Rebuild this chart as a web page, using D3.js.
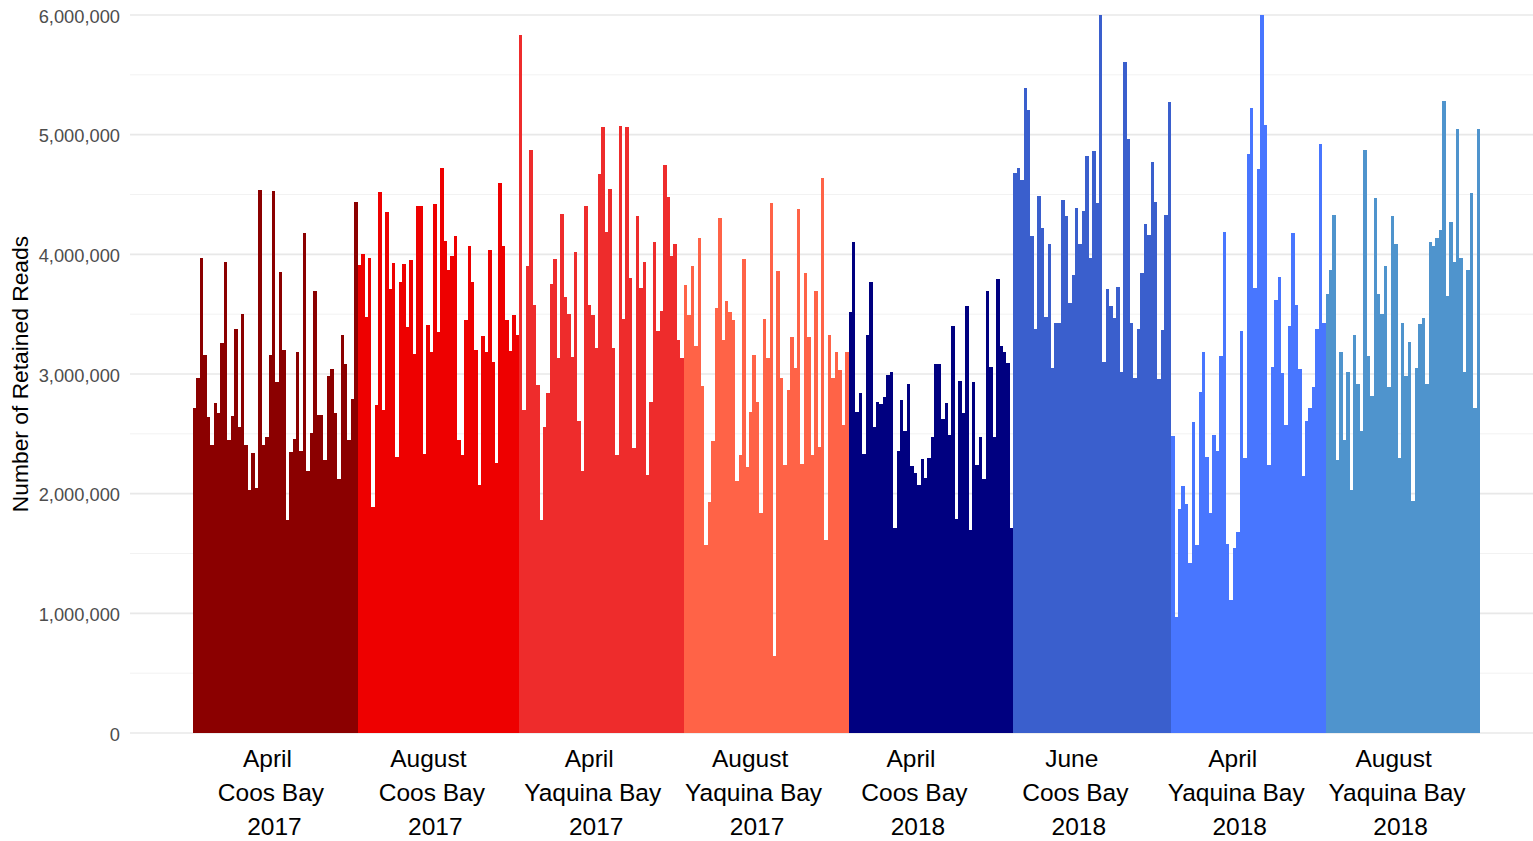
<!DOCTYPE html>
<html>
<head>
<meta charset="utf-8">
<script src="https://cdnjs.cloudflare.com/ajax/libs/d3/7.8.5/d3.min.js"></script>
<style>
  body { margin: 0; background: #fff; }
  svg { display: block; font-family: "Liberation Sans", Arial, sans-serif; }
</style>
</head>
<body>
<div id="chart"></div>
<script>

  // one entry per sampling event
  let months = ["April", "August", "April", "August", "April", "June", "April", "August"];
  let sites = ["Coos Bay", "Coos Bay", "Yaquina Bay", "Yaquina Bay", "Coos Bay", "Coos Bay", "Yaquina Bay", "Yaquina Bay"];
  let years = ["2017", "2017", "2017", "2017", "2018", "2018", "2018", "2018"];
  let colors = ["#8B0000", "#EE0000", "#EE2C2C", "#FF6347", "#000080", "#3A5FCD", "#4876FF", "#4F94CD"];

  // retained reads per sample, in millions
  let aprCoos17 = [2.72,2.97,3.97,3.16,2.64,2.41,2.76,2.67,3.26,3.94,2.45,2.65,3.38,2.56,3.50,2.41,2.03,2.34,2.05,4.54,2.41,2.47,3.16,4.53,2.93,3.85,3.20,1.78,2.35,2.46,3.18,2.36,4.18,2.19,2.51,3.69,2.66,2.66,2.28,2.98,3.04,2.67,2.12,3.33,3.08,2.45,2.79,4.44];
  let augCoos17 = [3.91,4.00,3.48,3.97,1.89,2.74,4.52,2.70,4.35,3.71,3.93,2.31,3.77,3.92,3.39,3.95,3.17,4.40,4.40,2.33,3.41,3.18,4.42,3.35,4.72,4.11,3.87,3.99,4.15,2.45,2.32,3.45,4.07,3.77,3.20,2.07,3.32,3.18,4.04,3.10,2.26,4.60,4.07,3.45,3.19,3.49,3.33];
  let aprYaq17 = [5.83,2.70,3.90,4.87,3.58,2.91,1.78,2.56,2.84,3.75,3.96,3.13,4.34,3.64,3.50,3.14,4.02,2.61,2.19,4.40,3.58,3.49,3.22,4.67,5.06,4.19,4.55,3.22,2.32,5.07,3.46,5.06,3.80,2.38,4.32,3.72,3.94,2.16,2.77,4.10,3.36,3.53,4.75,4.48,3.99,4.09,3.28,3.13];
  let augYaq17 = [3.74,3.49,3.90,3.23,4.14,2.90,1.57,1.93,2.44,3.55,4.30,3.28,3.61,3.52,3.45,2.11,2.32,3.96,2.22,2.68,3.16,2.77,1.84,3.46,3.13,4.43,0.64,3.86,2.97,2.24,2.87,3.31,3.05,4.38,2.25,3.84,3.31,2.32,3.69,2.39,4.64,1.61,3.33,2.97,3.18,3.03,2.57,3.18];
  let aprCoos18 = [3.52,4.10,2.68,2.84,2.33,3.33,3.77,2.56,2.77,2.75,2.81,2.99,3.02,1.71,2.36,2.78,2.52,2.92,2.23,2.17,2.07,2.29,2.13,2.30,2.47,3.08,3.08,2.62,2.76,2.49,3.40,1.79,2.94,2.67,3.57,1.70,2.93,2.24,2.47,2.12,3.69,3.06,2.47,3.79,3.23,3.18,3.09,1.71];
  let junCoos18 = [4.68,4.72,4.62,5.39,5.21,4.15,3.38,4.49,4.22,3.48,4.09,3.05,3.43,3.43,4.45,4.32,3.59,3.83,4.39,4.09,4.36,4.82,3.97,4.86,4.43,6.00,3.10,3.71,3.57,3.47,3.73,3.02,5.61,4.96,3.43,2.97,3.38,3.84,4.25,4.16,4.77,4.44,2.96,3.37,4.33,5.27];
  let aprYaq18 = [2.48,0.97,1.87,2.06,1.91,1.42,2.60,1.57,2.85,3.18,2.31,1.84,2.49,2.36,3.15,4.19,1.58,1.11,1.55,1.68,3.36,2.30,4.84,5.22,3.72,4.71,6.00,5.08,2.24,3.06,3.62,3.81,3.01,2.57,3.40,4.18,3.58,3.04,2.15,2.61,2.72,2.89,3.38,4.92,3.43];
  let augYaq18 = [3.67,3.87,4.33,2.28,3.18,2.45,3.02,2.03,3.33,2.92,2.52,4.87,3.15,2.82,4.47,3.67,3.50,3.90,2.89,4.32,4.09,2.30,3.43,2.98,3.27,1.94,3.05,3.42,3.47,2.92,4.10,4.07,4.14,4.20,5.28,3.65,4.27,3.94,5.05,3.97,3.02,3.87,4.51,2.72,5.05];

  let groupReads = [aprCoos17, augCoos17, aprYaq17, augYaq17, aprCoos18, junCoos18, aprYaq18, augYaq18];
  let yTicks = [0, 1000000, 2000000, 3000000, 4000000, 5000000, 6000000];

  let width = 1533;
  let height = 841;

  // flatten into one row per sample, keeping which group it came from
  let samples = [];
  groupReads.forEach(function(arr, gi){
    arr.forEach(function(v, i){
      samples.push({ id: gi + "_" + i, group: gi, reads: v * 1e6 });
    });
  });

  let svg = d3.select("#chart")
            .append("svg")
            .attr("width", width)
            .attr("height", height);

  svg.append("rect")
    .attr("width", width)
    .attr("height", height)
    .attr("fill", "#fff");

  let x = d3.scaleBand()
    .domain(samples.map(function(d){ return d.id; }))
    .range([193, 1480])
    .paddingInner(0);

  let y = d3.scaleLinear()
    .domain([0, 6000000])
    .range([733, 15]);

  // group labels sit at the middle of 8 equal slices of the bar range
  let xg = d3.scaleBand()
    .domain(d3.range(months.length))
    .range(x.range());

  let gridLeft = 130;

  // minor grid (half millions)
  svg.append("g")
    .selectAll("line")
    .data(d3.range(500000, 6000000, 1000000))
    .enter()
    .append("line")
      .attr("x1", gridLeft)
      .attr("x2", width)
      .attr("y1", function(d){ return y(d); })
      .attr("y2", function(d){ return y(d); })
      .attr("stroke", "#f2f2f2")
      .attr("stroke-width", 1);

  // major grid
  svg.append("g")
    .selectAll("line")
    .data(yTicks)
    .enter()
    .append("line")
      .attr("x1", gridLeft)
      .attr("x2", width)
      .attr("y1", function(d){ return y(d); })
      .attr("y2", function(d){ return y(d); })
      .attr("stroke", "#e8e8e8")
      .attr("stroke-width", 1.6);

  svg.append("g")
    .attr("shape-rendering", "crispEdges")
    .selectAll(".sample")
    .data(samples)
    .enter()
    .append("rect")
      .attr("class", "sample")
      .attr("x", function(d){ return x(d.id); })
      .attr("width", x.bandwidth())
      .attr("y", function(d){ return y(d.reads); })
      .attr("height", function(d){ return y(0) - y(d.reads); })
      .attr("fill", function(d){ return colors[d.group]; });

  // y axis, no line and no ticks, only labels
  let yAxis = svg.append("g")
    .attr("transform", "translate(" + gridLeft + ",0)")
    .call(d3.axisLeft(y).tickValues(yTicks).tickFormat(d3.format(",")).tickSize(0).tickPadding(10));

  yAxis.select(".domain").remove();
  yAxis.selectAll("text")
    .attr("font-family", "'Liberation Sans', Arial, sans-serif")
    .attr("font-size", 18.3)
    .attr("dy", "0.4em")
    .attr("fill", "#4d4d4d");

  svg.append("text")
    .attr("transform", "translate(22," + y(3000000) + ") rotate(-90)")
    .attr("text-anchor", "middle")
    .attr("dominant-baseline", "middle")
    .attr("font-size", 22.8)
    .attr("fill", "#000")
    .text("Number of Retained Reads");

  // three line labels under each group
  let labels = svg.append("g")
    .selectAll(".grp")
    .data(d3.range(months.length))
    .enter()
    .append("text")
      .attr("class", "grp")
      .attr("text-anchor", "middle")
      .attr("font-size", 24.5)
      .attr("fill", "#000");

  labels.append("tspan")
    .attr("x", function(d){ return xg(d) + xg.bandwidth() / 2 - 6; })
    .attr("y", 767)
    .text(function(d){ return months[d]; });

  labels.append("tspan")
    .attr("x", function(d){ return xg(d) + xg.bandwidth() / 2 - 2.5; })
    .attr("y", 801)
    .text(function(d){ return sites[d]; });

  labels.append("tspan")
    .attr("x", function(d){ return xg(d) + xg.bandwidth() / 2 + 1; })
    .attr("y", 835)
    .text(function(d){ return years[d]; });

</script>
</body>
</html>
